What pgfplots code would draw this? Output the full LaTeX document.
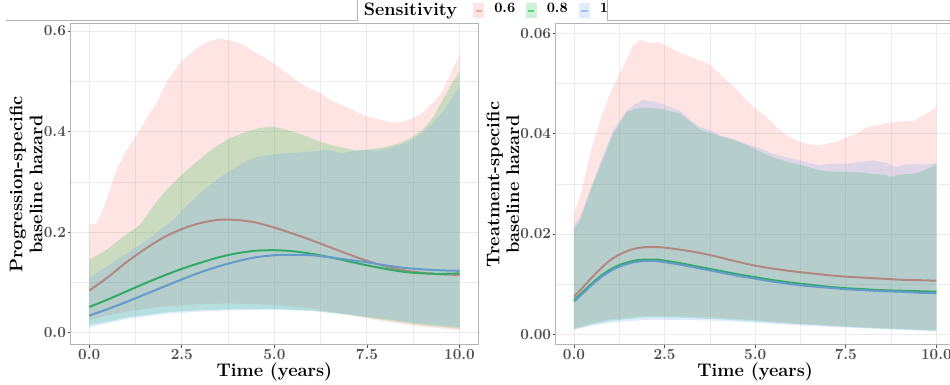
\documentclass[border=0pt]{standalone}
\usepackage{pgfplots}
\pgfplotsset{compat=1.18}
\usepackage{pgfplotstable}

\definecolor{hred}{HTML}{F8766D}
\definecolor{hgreen}{HTML}{00BA38}
\definecolor{hblue}{HTML}{619CFF}
\definecolor{gridc}{HTML}{EBEBEB}
\definecolor{framec}{HTML}{B3B3B3}
\definecolor{tickc}{HTML}{4D4D4D}

\newcommand\ticksize{\fontsize{11.5}{13.8}\selectfont\bfseries}
\newcommand\ttl{\fontsize{13.7}{14.9}\selectfont\bfseries}
\newcommand\legtitle{\fontsize{13.5}{15}\selectfont\bfseries}
\newcommand\leglab[1]{\raisebox{2.25pt}{\fontsize{10.7}{12}\selectfont\bfseries #1}}

% ---------- progression-specific baseline hazard ----------
\pgfplotstableread{
t y
0 0.0837
0.5 0.110
1.0 0.140
1.5 0.166
2.0 0.189
2.5 0.206
3.0 0.218
3.5 0.2245
4.0 0.224
4.5 0.219
5.0 0.209
5.5 0.197
6.0 0.184
6.5 0.170
7.0 0.156
7.5 0.143
8.0 0.132
8.5 0.124
9.0 0.119
9.5 0.116
10 0.115
}\PrLineRed
\pgfplotstableread{
t y
0 0.051
0.5 0.066
1.0 0.082
1.5 0.098
2.0 0.113
2.5 0.127
3.0 0.139
3.5 0.150
4.0 0.158
4.5 0.163
5.0 0.164
5.5 0.162
6.0 0.157
6.5 0.150
7.0 0.142
7.5 0.134
8.0 0.127
8.5 0.121
9.0 0.118
9.5 0.117
10 0.118
}\PrLineGreen
\pgfplotstableread{
t y
0 0.034
0.5 0.047
1.0 0.061
1.5 0.076
2.0 0.091
2.5 0.106
3.0 0.120
3.5 0.132
4.0 0.142
4.5 0.150
5.0 0.154
5.5 0.155
6.0 0.154
6.5 0.150
7.0 0.145
7.5 0.140
8.0 0.134
8.5 0.129
9.0 0.126
9.5 0.124
10 0.123
}\PrLineBlue
% credible bands: upper bound left to right, then lower bound right to left
\pgfplotstableread{
t y
0 0.2145
0.2 0.218
0.4 0.250
0.74 0.324
1.0 0.362
1.37 0.403
1.6 0.432
1.82 0.457
2.1 0.500
2.45 0.537
2.7 0.553
2.99 0.570
3.25 0.580
3.53 0.585
3.7 0.583
3.88 0.580
4.1 0.575
4.42 0.560
4.7 0.549
4.96 0.537
5.3 0.518
5.68 0.497
5.95 0.486
6.22 0.477
6.58 0.460
7.0 0.447
7.48 0.430
7.8 0.425
8.2 0.417
8.5 0.420
8.74 0.427
9.0 0.437
9.28 0.457
9.5 0.475
9.73 0.510
10 0.553
10 0.005
9 0.012
8 0.022
7 0.035
6 0.048
5 0.055
4 0.058
3 0.057
2 0.052
1 0.042
0.5 0.034
0 0.025
}\PrBandRed
\pgfplotstableread{
t y
0 0.145
0.47 0.165
0.9 0.190
1.37 0.2145
1.82 0.261
2.1 0.285
2.45 0.311
2.9 0.340
3.35 0.367
3.8 0.387
4.25 0.400
4.6 0.407
4.96 0.410
5.2 0.406
5.5 0.400
5.9 0.390
6.22 0.380
6.6 0.372
6.94 0.367
7.2 0.362
7.48 0.364
7.9 0.368
8.38 0.377
8.7 0.388
9.01 0.404
9.3 0.430
9.55 0.464
9.8 0.496
10 0.520
10 0.008
9 0.015
8 0.025
7 0.036
6 0.044
5 0.047
4 0.047
3 0.045
2 0.040
1 0.030
0.5 0.022
0 0.015
}\PrBandGreen
\pgfplotstableread{
t y
0 0.108
0.5 0.133
1.0 0.157
1.5 0.181
1.9 0.203
2.27 0.2245
2.6 0.250
2.99 0.278
3.35 0.299
3.71 0.318
4.1 0.335
4.42 0.347
4.7 0.352
4.96 0.354
5.3 0.357
5.68 0.3586
6.0 0.360
6.4 0.364
6.85 0.357
7.1 0.362
7.48 0.364
7.8 0.362
8.11 0.367
8.45 0.375
8.74 0.384
9.0 0.398
9.28 0.417
9.6 0.445
10 0.490
10 0.011
9 0.018
8 0.027
7 0.036
6 0.043
5 0.046
4 0.045
3 0.042
2 0.037
1 0.027
0.5 0.019
0 0.010
}\PrBandBlue

% ---------- treatment-specific baseline hazard ----------
\pgfplotstableread{
t y
0 0.0075
0.25 0.0094
0.5 0.0114
0.75 0.0132
1.0 0.0148
1.25 0.0159
1.5 0.0167
1.75 0.0172
2.0 0.0174
2.25 0.0174
2.5 0.0173
3.0 0.0168
3.5 0.0162
4.0 0.0154
4.5 0.0145
5.0 0.0137
5.5 0.0131
6.0 0.0126
6.5 0.0122
7.0 0.0118
7.5 0.0115
8.0 0.0113
8.5 0.0111
9.0 0.0109
9.5 0.0108
10 0.0107
}\TrLineRed
\pgfplotstableread{
t y
0 0.0068
0.25 0.0085
0.5 0.0102
0.75 0.0117
1.0 0.0129
1.25 0.0138
1.5 0.0144
1.75 0.0148
2.0 0.0149
2.25 0.0149
2.5 0.0147
3.0 0.0141
3.5 0.0134
4.0 0.0127
4.5 0.0120
5.0 0.0114
5.5 0.0108
6.0 0.0103
6.5 0.0099
7.0 0.0095
7.5 0.0092
8.0 0.0090
8.5 0.0088
9.0 0.0087
9.5 0.0086
10 0.0085
}\TrLineGreen
\pgfplotstableread{
t y
0 0.0065
0.25 0.0082
0.5 0.0099
0.75 0.0114
1.0 0.0126
1.25 0.0135
1.5 0.0141
1.75 0.0145
2.0 0.0146
2.25 0.0146
2.5 0.0144
3.0 0.0138
3.5 0.0131
4.0 0.0124
4.5 0.0117
5.0 0.0111
5.5 0.0105
6.0 0.0100
6.5 0.0096
7.0 0.0093
7.5 0.0090
8.0 0.0088
8.5 0.0086
9.0 0.0085
9.5 0.0083
10 0.0082
}\TrLineBlue
\pgfplotstableread{
t y
0 0.0240
0.2 0.0285
0.45 0.0360
0.72 0.0426
0.9 0.0462
1.08 0.0493
1.35 0.0533
1.63 0.0576
1.82 0.0587
2.0 0.0583
2.19 0.0580
2.3 0.0583
2.42 0.0580
2.65 0.0572
2.92 0.0562
3.3 0.0551
3.66 0.0542
3.9 0.0528
4.21 0.0506
4.5 0.0488
4.77 0.0466
5.05 0.0448
5.32 0.0433
5.6 0.0412
5.95 0.0393
6.2 0.0385
6.41 0.0380
6.7 0.0377
6.96 0.0380
7.25 0.0384
7.52 0.0393
7.8 0.0400
8.07 0.0413
8.35 0.0417
8.62 0.0421
8.9 0.0424
9.17 0.0426
9.4 0.0425
9.54 0.0433
9.8 0.0443
10 0.0454
10 0.0008
9 0.0011
8 0.0014
7 0.0018
6 0.0022
5 0.0028
4 0.0033
3 0.0036
2 0.0037
1 0.0030
0.5 0.0022
0 0.0012
}\TrBandRed
\pgfplotstableread{
t y
0 0.0210
0.17 0.0228
0.45 0.0285
0.72 0.0335
1.08 0.0400
1.45 0.0443
1.7 0.0450
1.91 0.0452
2.2 0.0451
2.5 0.0448
2.92 0.0440
3.2 0.0425
3.48 0.0408
3.75 0.0402
4.03 0.0395
4.4 0.0388
4.77 0.0377
5.1 0.0366
5.5 0.0353
5.9 0.0344
6.24 0.0338
6.5 0.0333
6.79 0.0327
7.1 0.0325
7.52 0.0324
7.9 0.0323
8.25 0.0320
8.6 0.0318
8.72 0.0314
9.0 0.0319
9.36 0.0320
9.7 0.0328
10 0.0340
10 0.0007
9 0.0010
8 0.0013
7 0.0017
6 0.0021
5 0.0026
4 0.0030
3 0.0033
2 0.0034
1 0.0027
0.5 0.0020
0 0.0010
}\TrBandGreen
\pgfplotstableread{
t y
0 0.0218
0.17 0.0235
0.45 0.0290
0.72 0.0340
1.08 0.0407
1.45 0.0446
1.7 0.0460
1.91 0.0468
2.1 0.0465
2.28 0.0463
2.6 0.0455
2.92 0.0446
3.2 0.0428
3.48 0.0413
3.75 0.0408
4.03 0.0397
4.4 0.0389
4.77 0.0380
5.1 0.0372
5.5 0.0360
5.9 0.0352
6.24 0.0347
6.5 0.0342
6.79 0.0337
7.1 0.0340
7.52 0.0340
7.9 0.0344
8.25 0.0347
8.6 0.0342
8.9 0.0334
9.15 0.0339
9.36 0.0340
9.7 0.0339
10 0.0341
10 0.0006
9 0.0009
8 0.0012
7 0.0015
6 0.0019
5 0.0023
4 0.0027
3 0.0029
2 0.0029
1 0.0023
0.5 0.0017
0 0.0009
}\TrBandBlue

\pgfplotsset{
  ggpanel/.style={
    scale only axis, height=240.75pt,
    xmin=-0.5, xmax=10.5,
    axis line style={framec, line width=0.75pt},
    grid=both,
    major grid style={gridc, line width=0.7pt},
    minor grid style={gridc, line width=0.45pt},
    xtick={0,2.5,5,7.5,10},
    xticklabels={\textbf{0.0},\textbf{2.5},\textbf{5.0},\textbf{7.5},\textbf{10.0}},
    minor xtick={1.25,3.75,6.25,8.75},
    tick align=outside, major tick length=2.2pt, minor tick length=0pt,
    tick style={tickc, line width=0.6pt},
    xtick pos=left, ytick pos=left,
    scaled y ticks=false,
    xticklabel style={font=\ticksize, text=tickc, inner sep=0pt, yshift=-0.6pt},
    yticklabel style={font=\ticksize, text=tickc, inner sep=0pt, xshift=-1.2pt},
    xlabel={Time (years)},
    xlabel style={at={(axis description cs:0.5,-0.083)}, anchor=center, font=\ttl, inner sep=0pt},
    ylabel style={anchor=center, align=center, font=\ttl, inner sep=0pt},
  },
  hazline/.style={line width=1.5pt, smooth, forget plot},
  band/.style={draw=none, fill opacity=0.2, forget plot},
  keyimg/.style={legend image code/.code={
      \fill[draw=none, fill opacity=0.2] (0pt,-2.4pt) rectangle (8.25pt,8.8pt);
      \draw[line width=1.5pt, opacity=0.55] (1.7pt,3.15pt) -- (6.55pt,3.15pt);
  }},
}

\begin{document}
\begin{tikzpicture}
\useasboundingbox (0,0) rectangle (712.5pt,288.75pt);
\clip (0,0) rectangle (712.5pt,288.75pt);

% frame around the shared legend
\draw[framec, line width=0.75pt] (4.5pt,273.2pt) -- (267.75pt,273.2pt) -- (267.75pt,292pt);
\draw[framec, line width=0.75pt] (455.25pt,292pt) -- (455.25pt,273.2pt) -- (712.5pt,273.2pt);

\begin{axis}[ggpanel,
  at={(53.03pt,30pt)}, anchor=south west, width=305.5pt,
  ymin=-0.0245, ymax=0.614,
  ytick={0,0.2,0.4,0.6},
  yticklabels={\textbf{0.0},\textbf{0.2},\textbf{0.4},\textbf{0.6}},
  minor ytick={0.1,0.3,0.5},
  ylabel={Progression-specific\\baseline hazard},
  ylabel style={at={(axis description cs:-0.1097,0.5)}},
  legend columns=4,
  legend style={
    at={(axis description cs:0.7195,1.01735)}, anchor=south west,
    draw=none, fill=none, inner sep=0pt, outer sep=0pt,
    column sep=0pt,
    cells={anchor=base west},
    nodes={inner sep=0pt, text depth=0pt},
    /tikz/column 2/.style={column sep=12.2pt},
    /tikz/column 3/.style={column sep=7.5pt},
    /tikz/column 4/.style={column sep=7.9pt},
    /tikz/column 5/.style={column sep=7.5pt},
    /tikz/column 6/.style={column sep=8.4pt},
    /tikz/column 7/.style={column sep=7.5pt},
  },
]
\addlegendimage{empty legend}
\addlegendentry{\legtitle Sensitivity}
\addlegendimage{hred, keyimg}
\addlegendentry{\leglab{0.6}}
\addlegendimage{hgreen, keyimg}
\addlegendentry{\leglab{0.8}}
\addlegendimage{hblue, keyimg}
\addlegendentry{\leglab{1}}

\addplot[hazline, hred] table {\PrLineRed};
\addplot[hazline, hgreen] table {\PrLineGreen};
\addplot[hazline, hblue] table {\PrLineBlue};
\addplot[band, fill=hred] table {\PrBandRed} -- cycle;
\addplot[band, fill=hgreen] table {\PrBandGreen} -- cycle;
\addplot[band, fill=hblue] table {\PrBandBlue} -- cycle;
\end{axis}

\begin{axis}[ggpanel,
  at={(416.9pt,30pt)}, anchor=south west, width=299pt,
  ymin=-0.00213, ymax=0.0619,
  ytick={0,0.02,0.04,0.06},
  yticklabels={\textbf{0.00},\textbf{0.02},\textbf{0.04},\textbf{0.06}},
  minor ytick={0.01,0.03,0.05},
  ylabel={Treatment-specific\\baseline hazard},
  ylabel style={at={(axis description cs:-0.1327,0.5)}},
]
\addplot[hazline, hred] table {\TrLineRed};
\addplot[hazline, hgreen] table {\TrLineGreen};
\addplot[hazline, hblue] table {\TrLineBlue};
\addplot[band, fill=hred] table {\TrBandRed} -- cycle;
\addplot[band, fill=hgreen] table {\TrBandGreen} -- cycle;
\addplot[band, fill=hblue] table {\TrBandBlue} -- cycle;
\end{axis}
\end{tikzpicture}
\end{document}
